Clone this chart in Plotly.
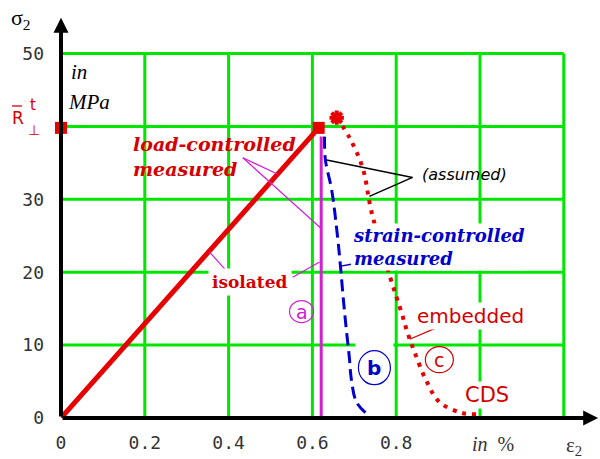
import plotly.graph_objects as go

# ---------------- data ----------------
eps_load = [0.0, 0.615]
sig_load = [0.0, 39.8]
R_t = 39.8                       # transverse tensile strength marker on the sigma axis
eps_iso = [0.621, 0.621]
sig_iso = [0.0, 38.6]
eps_strain = [0.629, 0.631, 0.646, 0.660, 0.667, 0.674, 0.681, 0.688, 0.693, 0.705, 0.731]
sig_strain = [38.6, 35.4, 31.3, 24.9, 20.8, 16.2, 12.1, 8.4, 5.3, 2.2, 0.5]
eps_emb = [0.658, 0.689, 0.720, 0.741, 0.784, 0.813, 0.827, 0.844, 0.872, 0.903, 0.956, 0.992]
sig_emb = [41.2, 38.4, 34.3, 28.3, 19.6, 14.4, 11.7, 9.0, 5.1, 2.2, 0.7, 0.5]
peak_emb = [0.658, 41.2]

x_ticks = [0, 0.2, 0.4, 0.6, 0.8]
x_ticktext = ["0", "0.2", "0.4", "0.6", "0.8"]
y_ticks = [0, 10, 20, 30, 50]
y_ticktext = ["0", "10", "20", "30", "50"]
grid_x = [0.2, 0.4, 0.6, 0.8, 1.0, 1.2]
grid_y = [10, 20, 30, 40, 50]

RED = "#e60000"
TRED = "#d40000"
BLUE = "#0000cc"
MAG = "#d020d0"
GREEN = "#00e600"

fig = go.Figure()

# curves
fig.add_trace(go.Scatter(x=eps_iso, y=sig_iso, mode="lines", cliponaxis=False,
                         line=dict(color=MAG, width=3), hoverinfo="skip"))
fig.add_trace(go.Scatter(x=eps_strain, y=sig_strain, mode="lines", cliponaxis=False,
                         line=dict(color=BLUE, width=3, dash="12px,6px", shape="spline"),
                         hoverinfo="skip"))
fig.add_trace(go.Scatter(x=eps_emb, y=sig_emb, mode="lines", cliponaxis=False,
                         line=dict(color=RED, width=4, dash="4px,6px", shape="spline"),
                         hoverinfo="skip"))
fig.add_trace(go.Scatter(x=eps_load, y=sig_load, mode="lines", cliponaxis=False,
                         line=dict(color=RED, width=5), hoverinfo="skip"))
fig.add_trace(go.Scatter(x=[eps_load[-1], 0], y=[sig_load[-1], R_t], mode="markers",
                         cliponaxis=False,
                         marker=dict(symbol="square", size=12, color=RED), hoverinfo="skip"))
fig.add_trace(go.Scatter(x=[peak_emb[0]], y=[peak_emb[1]], mode="markers", cliponaxis=False,
                         marker=dict(symbol="asterisk-open", size=12, color=RED,
                                     line=dict(color=RED, width=4)), hoverinfo="skip"))

shapes = []
# grid
for gx in grid_x:
    shapes.append(dict(type="line", x0=gx, x1=gx, y0=0, y1=grid_y[-1], layer="below",
                       line=dict(color=GREEN, width=3)))
for gy in grid_y:
    shapes.append(dict(type="line", x0=0, x1=grid_x[-1], y0=gy, y1=gy, layer="below",
                       line=dict(color=GREEN, width=3)))
# white mask behind (b)
shapes.append(dict(type="rect", xref="x", yref="y", xsizemode="pixel", ysizemode="pixel",
                   xanchor=0.748, yanchor=6.9, x0=-19, x1=19, y0=-22, y1=25,
                   fillcolor="white", line=dict(width=0), layer="below"))

def seg(x0, y0, x1, y1, color, width=1.2):
    shapes.append(dict(type="line", x0=x0, y0=y0, x1=x1, y1=y1,
                       line=dict(color=color, width=width), layer="above"))

# leader lines
seg(0.434, 35.7, 0.515, 33.5, MAG)
seg(0.434, 35.7, 0.619, 26.1, MAG)
seg(0.396, 20.1, 0.354, 22.8, MAG)
seg(0.553, 19.3, 0.617, 21.4, MAG)
seg(0.839, 33.0, 0.634, 35.4, "black", 1.5)
seg(0.839, 33.0, 0.736, 30.4, "black", 1.5)
seg(0.665, 20.8, 0.692, 21.1, BLUE, 1.5)
seg(0.832, 10.8, 0.897, 12.4, TRED, 1.2)

# bar over the R of the strength symbol (paper coordinates)
shapes.append(dict(type="line", xref="paper", yref="paper",
                   x0=(12 - 61) / 539, x1=(22 - 61) / 539,
                   y0=(418 - 106) / 403, y1=(418 - 106) / 403,
                   line=dict(color=TRED, width=1.3)))

# circles round a, b, c
def circ(xc, yc, rx, ry, color):
    shapes.append(dict(type="circle", xref="x", yref="y", xsizemode="pixel", ysizemode="pixel",
                       xanchor=xc, yanchor=yc, x0=-rx, x1=rx, y0=-ry, y1=ry,
                       line=dict(color=color, width=1.2), layer="above"))

circ(0.574, 14.6, 12, 11, MAG)
circ(0.748, 6.9, 16, 17, BLUE)
circ(0.903, 8.0, 14, 13, TRED)

ann = []
def txt(x, y, text, size, color="black", family="DejaVu Sans", xanchor="center",
        align="center", bg=None, pad=1, ref="data"):
    d = dict(x=x, y=y, text=text, showarrow=False, xanchor=xanchor, yanchor="middle",
             align=align, font=dict(size=size, color=color, family=family), borderpad=pad)
    if ref == "paper":
        d["xref"] = "paper"
        d["yref"] = "paper"
    if bg:
        d["bgcolor"] = bg
    ann.append(d)

def ptxt(px, py, text, size, color="black", family="DejaVu Sans"):
    """text centred on a pixel position outside the plotting area"""
    txt((px - 61) / 539, (418 - py) / 403, text, size, color, family, ref="paper")

# axes with arrows
ann.append(dict(x=1.282, y=0, ax=0, ay=0, axref="x", ayref="y", xref="x", yref="y",
                text="", showarrow=True, arrowhead=2, arrowsize=0.75, arrowwidth=4,
                arrowcolor="black"))
ann.append(dict(x=0, y=54.9, ax=0, ay=0, axref="x", ayref="y", xref="x", yref="y",
                text="", showarrow=True, arrowhead=2, arrowsize=0.75, arrowwidth=4,
                arrowcolor="black"))

txt(0.168, 35.9, "<b><i>load-controlled<br>measured</i></b>", 19, TRED,
    "DejaVu Serif", xanchor="left", align="left")
txt(0.693, 23.4, "<b><i>strain-controlled<br>measured</i></b>", 18, BLUE,
    "DejaVu Serif", xanchor="left", align="left", bg="white")
txt(0.963, 33.4, "<i>(assumed)</i>", 16, "black", "DejaVu Sans")
txt(0.452, 18.7, "<b>isolated</b>", 17, TRED, "DejaVu Serif", bg="white", pad=3)
txt(0.977, 14.0, "embedded", 20, TRED, "DejaVu Sans", bg="white")
txt(1.016, 3.2, "CDS", 21, TRED, "DejaVu Sans", bg="white")
txt(0.042, 47.5, "<i>in</i>", 21, "black", "Liberation Serif")
txt(0.066, 43.4, "<i>MPa</i>", 21, "black", "Liberation Serif")
txt(0.574, 14.6, "a", 19, MAG, "DejaVu Sans")
txt(0.748, 6.9, "<b>b</b>", 20, BLUE, "DejaVu Sans")
txt(0.903, 8.0, "c", 19, TRED, "DejaVu Sans")
# labels outside the plotting area
ptxt(18, 118, "R", 17, TRED, "DejaVu Sans")
ptxt(33, 105, "t", 15, TRED, "DejaVu Sans")
ptxt(34, 130, "\u22a5", 14, TRED, "DejaVu Sans")
ptxt(21, 19, "\u03c3<sub>2</sub>", 22, "black", "Liberation Serif")
ptxt(493, 444, "<i>in</i>  %", 20, "#333", "Liberation Serif")
ptxt(574, 446, "\u03b5<sub>2</sub>", 21, "#333", "Liberation Serif")

fig.update_layout(
    width=600, height=459,
    margin=dict(l=61, r=0, t=15, b=41, autoexpand=False),
    paper_bgcolor="white", plot_bgcolor="white",
    showlegend=False,
    font=dict(family="DejaVu Sans"),
    shapes=shapes, annotations=ann,
    xaxis=dict(range=[0, 539 / 419], showgrid=False, zeroline=False, showline=False,
               tickmode="array", tickvals=x_ticks, ticktext=x_ticktext, ticks="",
               tickfont=dict(family="DejaVu Sans Mono", size=18, color="#333"),
               ticklabelstandoff=12, automargin=False, fixedrange=True),
    yaxis=dict(range=[0, 403 / 7.29], showgrid=False, zeroline=False, showline=False,
               tickmode="array", tickvals=y_ticks, ticktext=y_ticktext, ticks="",
               tickfont=dict(family="DejaVu Sans Mono", size=18, color="#333"),
               ticklabelstandoff=16, automargin=False, fixedrange=True),
)

fig.write_html("out.html", config={"displayModeBar": False},
               post_script="document.body.style.margin='0px';")
